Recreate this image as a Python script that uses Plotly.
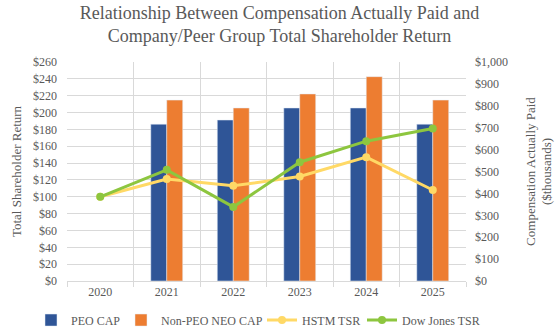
import plotly.graph_objects as go

years = ["2020", "2021", "2022", "2023", "2024", "2025"]
peo_cap = [None, 716, 735, 790, 790, 716]
non_peo_cap = [None, 826, 790, 854, 933, 826]
hstm_tsr = [100, 121, 113, 124, 147, 108]
dow_tsr = [100, 132, 88, 141, 166, 181]

left_ticks = list(range(0, 261, 20))
right_ticks = list(range(0, 1001, 100))

font_family = "Liberation Serif, Times New Roman, serif"
gray = "#595959"
grid = "#D9D9D9"

fig = go.Figure()
# Compensation bars on the base axis (right side) so TSR lines draw above them
fig.add_trace(go.Bar(x=years, y=peo_cap, name="PEO CAP", marker_color="#2F5597",
                     yaxis="y", legend="legend", showlegend=True))
fig.add_trace(go.Bar(x=years, y=non_peo_cap, name="Non-PEO NEO CAP", marker_color="#ED7D31",
                     yaxis="y", legend="legend2", showlegend=True))
fig.add_trace(go.Scatter(x=years, y=hstm_tsr, name="HSTM TSR", mode="lines+markers",
                         line=dict(color="#FFD966", width=3),
                         marker=dict(size=8, color="#FFD966"), yaxis="y2",
                         legend="legend3", showlegend=True))
fig.add_trace(go.Scatter(x=years, y=dow_tsr, name="Dow Jones TSR", mode="lines+markers",
                         line=dict(color="#8DC63F", width=3),
                         marker=dict(size=8, color="#8DC63F"), yaxis="y2",
                         legend="legend4", showlegend=True))


def legend_box(x_px):
    # one legend per entry, laid out in a single row under the axis
    return dict(orientation="h", xref="container", x=x_px / 559, xanchor="left",
                yref="container", y=0.036, yanchor="middle", visible=True,
                font=dict(family=font_family, size=12, color=gray),
                itemwidth=30, bgcolor="rgba(0,0,0,0)")


fig.update_layout(
    width=559, height=332,
    showlegend=True,
    margin=dict(l=67, r=93, t=62, b=51, autoexpand=False),
    paper_bgcolor="white", plot_bgcolor="white",
    font=dict(family=font_family, size=12, color=gray),
    title=dict(text="Relationship Between Compensation Actually Paid and<br>Company/Peer Group Total Shareholder Return",
               x=0.5, xanchor="center", y=0.943, yanchor="top",
               font=dict(family=font_family, size=18, color=gray)),
    barmode="group", bargap=0.52, bargroupgap=0,
    xaxis=dict(type="category", tickson="boundaries", showgrid=True, gridcolor=grid,
               ticks="outside", ticklen=5, tickcolor=grid, automargin=False,
               showline=True, linecolor=grid, tickfont=dict(size=12, color=gray)),
    yaxis=dict(range=[0, 1000], tickvals=right_ticks,
               ticktext=[f"${v:,}" for v in right_ticks],
               side="right", showgrid=False, zeroline=False, automargin=True,
               ticklabelstandoff=8,
               title=dict(text="Compensation Actually Paid<br>($thousands)",
                          font=dict(size=13, color=gray), standoff=18),
               tickfont=dict(size=12, color=gray)),
    yaxis2=dict(range=[0, 260], tickvals=left_ticks,
                ticktext=[f"${v}" for v in left_ticks],
                overlaying="y", side="left", showgrid=True, gridcolor=grid,
                zeroline=False, automargin=False, ticklabelstandoff=9,
                title=dict(text="Total Shareholder Return", font=dict(size=13, color=gray), standoff=8),
                tickfont=dict(size=12, color=gray)),
    legend=legend_box(73 - 42),
    legend2=legend_box(163 - 42),
    legend3=legend_box(304 - 42),
    legend4=legend_box(404 - 42),
)

fig.write_html("out.html")
